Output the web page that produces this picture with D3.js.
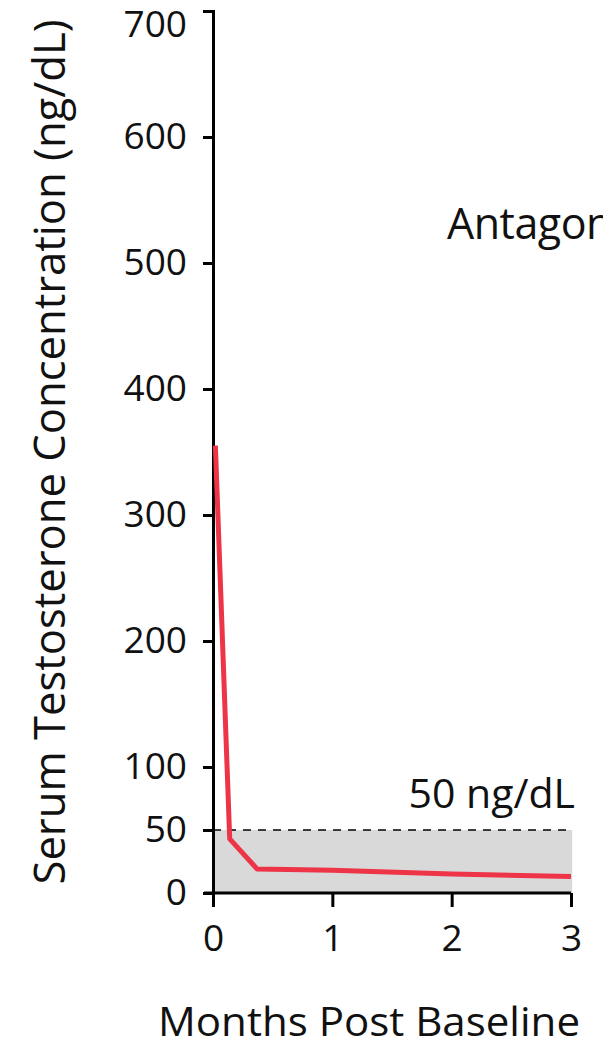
<html>
<head>
    <style>
        body { margin: 0; background: white; }
        text { font-family: "Open Sans", sans-serif; fill: #111; }
        .axis path, .axis line { stroke: #000; stroke-width: 3; }
        .axis text { font-size: 37px; font-family: "Open Sans", sans-serif; fill: #111; }
    </style>
</head>
<body>
    <svg id="container" width="603" height="1045"></svg>
</body>
<script src="https://cdn.jsdelivr.net/npm/d3@7"></script>
<script>
    // data
    let months = [0.02, 0.14, 0.37, 1, 2, 3]
    let testosterone = [355, 43, 19, 18, 15, 13]
    let yTicks = [0, 50, 100, 200, 300, 400, 500, 600, 700]
    let xTicks = [0, 1, 2, 3]
    let castrateLevel = 50

    let svg = d3.select("#container")

    let x = d3.scaleLinear().domain([0, 3]).range([213, 571])
    let y = d3.scaleLinear().domain([0, 700]).range([893, 11])

    // castrate zone
    svg.append("rect")
        .attr("x", x(0))
        .attr("y", y(castrateLevel))
        .attr("width", x(3.01) - x(0))
        .attr("height", y(0) - y(castrateLevel))
        .attr("fill", "#d9d9d9")

    svg.append("line")
        .attr("x1", x(0)).attr("x2", x(3.005))
        .attr("y1", y(castrateLevel)).attr("y2", y(castrateLevel))
        .attr("stroke", "#000")
        .attr("stroke-width", 1.5)
        .attr("stroke-dasharray", "8,7")

    svg.append("text")
        .attr("x", 575).attr("y", 808)
        .attr("text-anchor", "end")
        .attr("font-size", 41)
        .text(castrateLevel + " ng/dL")

    // axes
    let yAxis = svg.append("g")
        .attr("class", "axis")
        .attr("transform", `translate(${x(0)},0)`)
        .call(d3.axisLeft(y).tickValues(yTicks).tickSize(10).tickPadding(16))
    yAxis.selectAll(".tick text").filter(d => d === 700).attr("dy", "0.7em")

    svg.append("g")
        .attr("class", "axis")
        .attr("transform", `translate(0,${y(0)})`)
        .call(d3.axisBottom(x).tickValues(xTicks).tickSize(14).tickSizeOuter(0).tickPadding(18).tickFormat(d3.format("d")))
        .call(g => g.select(".domain").attr("d", `M${x(0) - 9},0H${x(3)}`))

    // testosterone line
    let line = d3.line()
        .x((d, i) => x(months[i]))
        .y(d => y(d))

    svg.append("path")
        .datum(testosterone)
        .attr("d", line)
        .attr("fill", "none")
        .attr("stroke", "#ee3447")
        .attr("stroke-width", 5)
        .attr("stroke-linejoin", "round")

    // titles
    svg.append("text")
        .attr("transform", "translate(65,452) rotate(-90)")
        .attr("text-anchor", "middle")
        .attr("font-size", 43)
        .attr("textLength", 865)
        .attr("lengthAdjust", "spacingAndGlyphs")
        .text("Serum Testosterone Concentration (ng/dL)")

    svg.append("text")
        .attr("x", 369).attr("y", 1036)
        .attr("text-anchor", "middle")
        .attr("font-size", 41)
        .attr("textLength", 422)
        .attr("lengthAdjust", "spacingAndGlyphs")
        .text("Months Post Baseline")

    svg.append("text")
        .attr("x", 447).attr("y", 239)
        .attr("font-size", 43)
        .attr("letter-spacing", -0.5)
        .text("Antagonist")
</script>
</html>
